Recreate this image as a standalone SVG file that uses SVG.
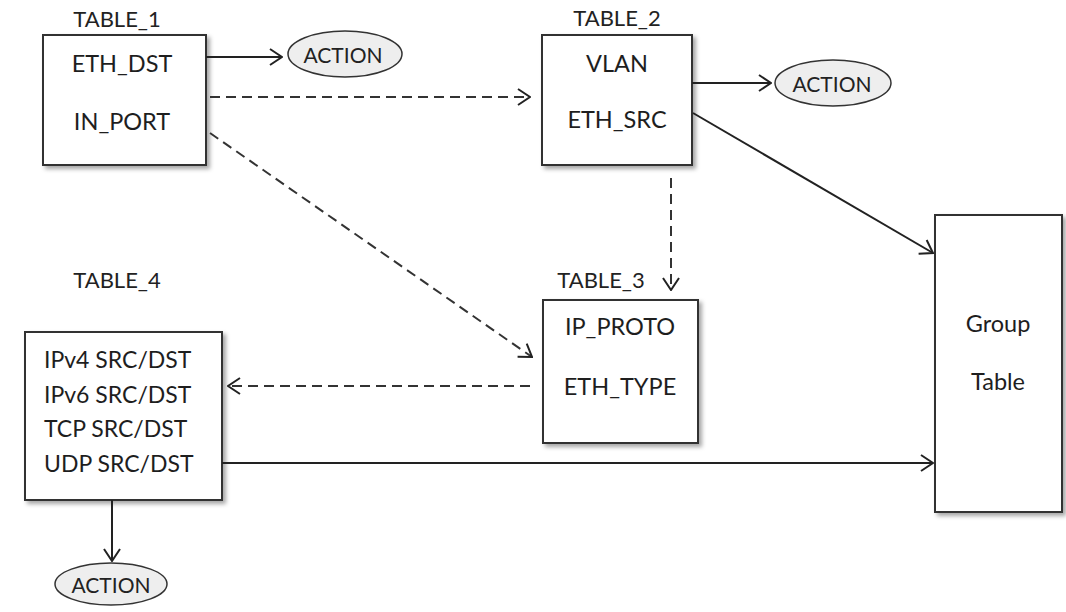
<svg xmlns="http://www.w3.org/2000/svg" width="1066" height="612" viewBox="0 0 1066 612">
  <defs>
    <filter id="shadow" x="-10%" y="-10%" width="130%" height="130%">
      <feDropShadow dx="3" dy="3" stdDeviation="2" flood-color="#000" flood-opacity="0.35"/>
    </filter>
    <marker id="arrow" viewBox="0 0 14 18" refX="13" refY="9" markerWidth="14" markerHeight="18" markerUnits="userSpaceOnUse" orient="auto">
      <path d="M1,1 L13,9 L1,17" fill="none" stroke="#222" stroke-width="2"/>
    </marker>
  </defs>
  <style>
    .box { fill: #fff; stroke: #333; stroke-width: 2; filter: url(#shadow); }
    .action { fill: #eeeeee; stroke: #333; stroke-width: 1.5; }
    .title { font-family: Lato, "Open Sans", sans-serif; font-size: 22px; fill: #222; text-anchor: middle; }
    .field { font-family: Lato, "Open Sans", sans-serif; font-size: 23.5px; fill: #1e1e1e; text-anchor: middle; }
    .fieldl { font-family: Lato, "Open Sans", sans-serif; font-size: 23px; fill: #1e1e1e; }
    .act { font-family: Lato, "Open Sans", sans-serif; font-size: 21px; fill: #222; text-anchor: middle; }
    .solid { fill: none; stroke: #222; stroke-width: 2; marker-end: url(#arrow); }
    .dashed { fill: none; stroke: #333; stroke-width: 2; stroke-dasharray: 10 6; marker-end: url(#arrow); }
  </style>

  <!-- flow tables -->
  <g id="table1">
    <text class="title" x="117" y="27">TABLE_1</text>
    <rect class="box" x="43" y="35" width="163" height="130"/>
    <text class="field" x="122" y="72">ETH_DST</text>
    <text class="field" x="122" y="130">IN_PORT</text>
  </g>

  <g id="table2">
    <text class="title" x="617" y="26">TABLE_2</text>
    <rect class="box" x="542" y="35" width="150" height="130"/>
    <text class="field" x="617" y="72">VLAN</text>
    <text class="field" x="617" y="128">ETH_SRC</text>
  </g>

  <g id="table3">
    <text class="title" x="601" y="288">TABLE_3</text>
    <rect class="box" x="543" y="300" width="155" height="143"/>
    <text class="field" x="620" y="335">IP_PROTO</text>
    <text class="field" x="620" y="395">ETH_TYPE</text>
  </g>

  <g id="table4">
    <text class="title" x="117" y="288">TABLE_4</text>
    <rect class="box" x="25" y="332" width="197" height="168"/>
    <text class="fieldl" x="44" y="368">IPv4 SRC/DST</text>
    <text class="fieldl" x="44" y="403">IPv6 SRC/DST</text>
    <text class="fieldl" x="44" y="437">TCP SRC/DST</text>
    <text class="fieldl" x="44" y="472">UDP SRC/DST</text>
  </g>

  <g id="group-table">
    <rect class="box" x="935" y="215" width="127" height="297"/>
    <text class="field" x="998" y="332">Group</text>
    <text class="field" x="998" y="390">Table</text>
  </g>

  <!-- action terminals -->
  <g id="action1">
    <ellipse class="action" cx="345" cy="54" rx="57" ry="23"/>
    <text class="act" x="343" y="63">ACTION</text>
  </g>
  <g id="action2">
    <ellipse class="action" cx="833" cy="83" rx="58" ry="23"/>
    <text class="act" x="832" y="92">ACTION</text>
  </g>
  <g id="action3">
    <ellipse class="action" cx="111" cy="584" rx="56" ry="21"/>
    <text class="act" x="111" y="593">ACTION</text>
  </g>

  <!-- connectors -->
  <g id="connectors">
    <line class="solid" x1="206" y1="57" x2="282" y2="57"/>
    <line class="dashed" x1="210" y1="97" x2="530" y2="97"/>
    <line class="dashed" x1="210" y1="133" x2="532" y2="357"/>
    <line class="solid" x1="692" y1="83" x2="771" y2="83"/>
    <line class="solid" x1="693" y1="113" x2="933" y2="253"/>
    <line class="dashed" x1="671" y1="178" x2="671" y2="290"/>
    <line class="dashed" x1="530" y1="386" x2="228" y2="386"/>
    <line class="solid" x1="222" y1="463" x2="933" y2="463"/>
    <line class="solid" x1="112" y1="500" x2="112" y2="561"/>
  </g>
</svg>
